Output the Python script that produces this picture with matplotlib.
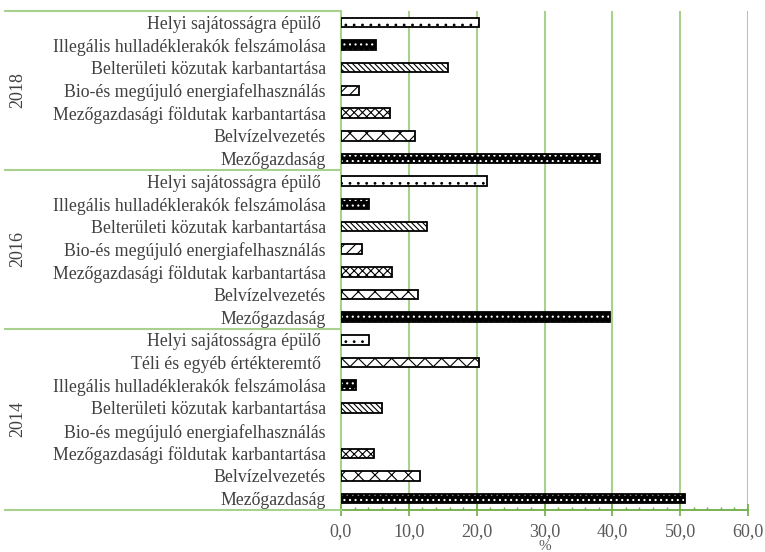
import matplotlib
matplotlib.use("Agg")
import matplotlib.pyplot as plt
from matplotlib.ticker import MultipleLocator, FuncFormatter

years = ["2018", "2016", "2014"]

cats_2018 = ["Helyi sajátosságra épülő ",
             "Illegális hulladéklerakók felszámolása",
             "Belterületi közutak karbantartása",
             "Bio-és megújuló energiafelhasználás",
             "Mezőgazdasági földutak karbantartása",
             "Belvízelvezetés",
             "Mezőgazdaság"]
vals_2018 = [20.3, 5.1, 15.8, 2.6, 7.2, 10.9, 38.2]

cats_2016 = ["Helyi sajátosságra épülő ",
             "Illegális hulladéklerakók felszámolása",
             "Belterületi közutak karbantartása",
             "Bio-és megújuló energiafelhasználás",
             "Mezőgazdasági földutak karbantartása",
             "Belvízelvezetés",
             "Mezőgazdaság"]
vals_2016 = [21.5, 4.1, 12.7, 3.1, 7.5, 11.3, 39.7]

cats_2014 = ["Helyi sajátosságra épülő ",
             "Téli és egyéb értékteremtő ",
             "Illegális hulladéklerakók felszámolása",
             "Belterületi közutak karbantartása",
             "Bio-és megújuló energiafelhasználás",
             "Mezőgazdasági földutak karbantartása",
             "Belvízelvezetés",
             "Mezőgazdaság"]
vals_2014 = [4.2, 20.4, 2.2, 6.1, 0.0, 4.8, 11.6, 50.7]

groups = [(years[0], cats_2018, vals_2018),
          (years[1], cats_2016, vals_2016),
          (years[2], cats_2014, vals_2014)]

# style per category: (facecolor, hatchcolor, hatch)
styles = {
    "Helyi": ("white", "black", ".."),
    "Téli": ("white", "black", "xx"),
    "Illegális": ("black", "white", "..."),
    "Belterületi": ("white", "black", "\\\\\\\\\\\\"),
    "Bio-és": ("white", "black", "///"),
    "Mezőgazdasági": ("white", "black", "xxxx"),
    "Belvízelvezetés": ("white", "black", "xx"),
    "Mezőgazdaság": ("black", "white", "..."),
}

plt.rcParams["hatch.linewidth"] = 0.8
plt.rcParams["font.family"] = ["Liberation Serif", "DejaVu Serif"]

W, H = 765, 552
fig = plt.figure(figsize=(W / 100, H / 100), dpi=100)
ax_left, ax_right, ax_top, ax_bot = 341, 748, 11, 510
ax = fig.add_axes([ax_left / W, (H - ax_bot) / H, (ax_right - ax_left) / W, (ax_bot - ax_top) / H])

grid_c = "#A9D18E"
axis_c = "#70AD47"
text_c = "#404040"
fs = 12.8

ax.set_xlim(0, 60)
ax.xaxis.set_major_locator(MultipleLocator(10))
ax.xaxis.set_minor_locator(MultipleLocator(2))

# vertical gridlines behind the bars
for gx in ax.get_xticks():
    if 0 < gx <= 60:
        ax.axvline(gx, color=grid_c, linewidth=1.5, zorder=0)

ypos = []
ylabels = []
group_bounds = []
i = 0
for year, cats, vals in groups:
    start = i
    for c, v in zip(cats, vals):
        key = c.split()[0]
        fc, hc, hatch = styles[key]
        ax.barh(i, v, height=0.42, color=fc, edgecolor=hc, hatch=hatch, linewidth=0, zorder=3)
        if v > 0:
            ax.barh(i, v, height=0.42, fill=False, edgecolor="black", linewidth=1.3, zorder=4)
        ypos.append(i)
        ylabels.append(c)
        i += 1
    group_bounds.append((year, start, i - 1))

n = i
ax.set_ylim(n - 0.5, -0.5)
ax.set_xlim(0, 60)
ax.set_yticks(ypos)
ax.set_yticklabels(ylabels, fontsize=fs, color=text_c)
ax.tick_params(axis="y", length=0, pad=11)

ax.xaxis.set_major_formatter(FuncFormatter(lambda x, p: f"{x:.1f}".replace(".", ",")))
ax.tick_params(axis="x", which="major", direction="inout", length=8.5, width=1.2, color=axis_c,
               labelsize=13, labelcolor="#595959", pad=5)
ax.tick_params(axis="x", which="minor", direction="in", length=2.5, width=1.0, color=axis_c)
ax.xaxis.set_zorder(6)

for s in ["top", "right"]:
    ax.spines[s].set_visible(False)
ax.spines["bottom"].set_color(axis_c)
ax.spines["bottom"].set_linewidth(1.3)
ax.spines["bottom"].set_zorder(6)
ax.spines["left"].set_color(grid_c)
ax.spines["left"].set_linewidth(1.5)

# group separators and year labels
def ytofig(y):
    return ax.transData.transform((0, y))[1] / H

bounds_y = [-0.5] + [b[2] + 0.5 for b in group_bounds]
for yb in bounds_y:
    fy = ytofig(yb)
    fig.add_artist(plt.Line2D([5 / W, ax_left / W], [fy, fy], color=grid_c, linewidth=1.5))

for year, s, e in group_bounds:
    fy = ytofig((s + e) / 2)
    fig.text(18 / W, fy, year, rotation=90, ha="center", va="center", fontsize=13, color=text_c)

fig.text((ax_left + ax_right) / 2 / W, 12 / H, "%", ha="center", va="top", fontsize=11, color="#595959")

fig.savefig("out.png", dpi=100)
